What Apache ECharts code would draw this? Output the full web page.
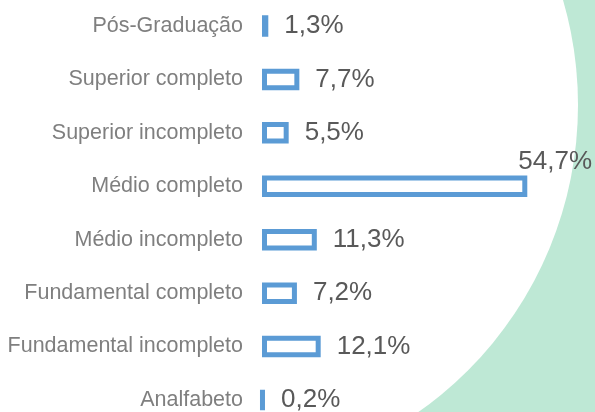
<!DOCTYPE html>
<html>
<head>
<meta charset="utf-8">
<script src="https://cdn.jsdelivr.net/npm/echarts@6/dist/echarts.min.js"></script>
<style>
  html, body { margin: 0; padding: 0; background: #fff; }
  #chart { width: 595px; height: 412px; }
</style>
</head>
<body>
<div id="chart"></div>
<script>
// escolaridade (top to bottom)
const categories = [
  "Pós-Graduação",
  "Superior completo",
  "Superior incompleto",
  "Médio completo",
  "Médio incompleto",
  "Fundamental completo",
  "Fundamental incompleto",
  "Analfabeto"
];
const values = [1.3, 7.7, 5.5, 54.7, 11.3, 7.2, 12.1, 0.2];

const chart = echarts.init(document.getElementById("chart"));

const fmt = (v) => v.toFixed(1).replace(".", ",") + "%";

const option = {
  animation: false,
  graphic: [
    {
      type: "rect",
      z: -20,
      silent: true,
      shape: { x: 380, y: 0, width: 215, height: 412 },
      style: { fill: "#BEE8D5" }
    },
    {
      type: "circle",
      z: -10,
      silent: true,
      shape: { cx: 203, cy: 105, r: 375 },
      style: { fill: "#ffffff" }
    }
  ],
  grid: { left: 262, right: 42, top: 26, bottom: 12 },
  xAxis: {
    type: "value",
    min: 0,
    max: 60,
    show: false
  },
  yAxis: {
    type: "category",
    data: categories,
    inverse: true,
    boundaryGap: false,
    axisLine: { show: false },
    axisTick: { show: false },
    splitLine: { show: false },
    axisLabel: {
      margin: 19,
      fontFamily: "Liberation Sans, Arial, sans-serif",
      fontSize: 21.5,
      color: "#7F7F7F"
    }
  },
  series: [
    {
      type: "bar",
      barWidth: 21.5,
      data: values.map((v) => {
        const item = { value: v };
        if (v === 54.7) {
          item.label = { offset: [-25, -24] };
        }
        return item;
      }),
      itemStyle: {
        color: "#ffffff",
        borderColor: "#5B9BD5",
        borderWidth: 5
      },
      label: {
        show: true,
        position: "right",
        distance: 16,
        fontFamily: "Liberation Sans, Arial, sans-serif",
        fontSize: 26,
        color: "#595959",
        formatter: (p) => fmt(p.value)
      }
    }
  ]
};

chart.setOption(option);
</script>
</body>
</html>
